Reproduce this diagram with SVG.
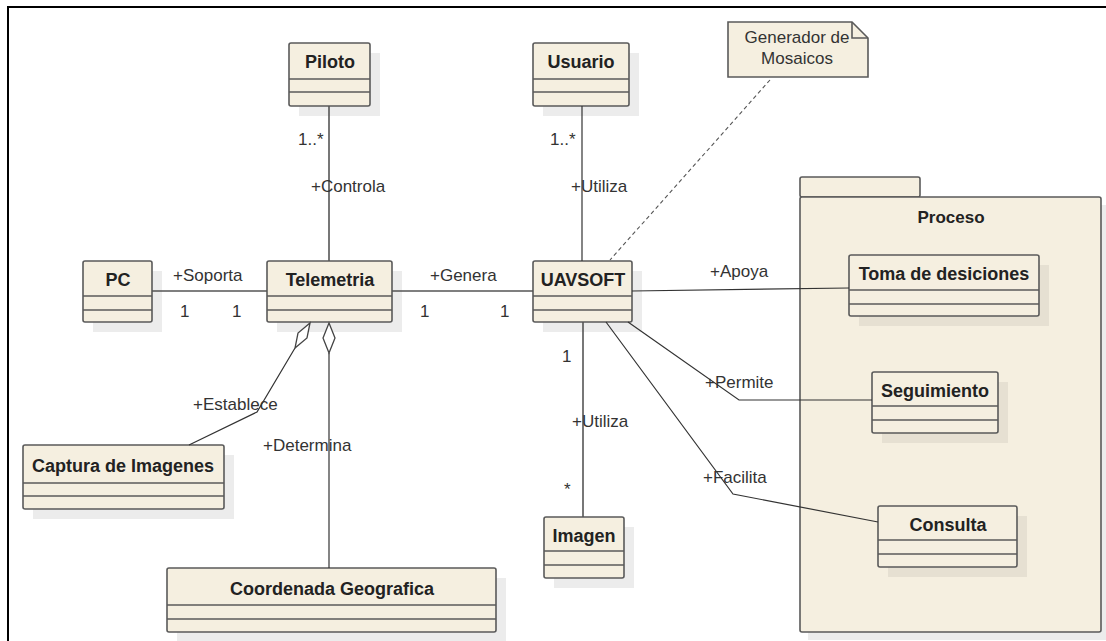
<svg xmlns="http://www.w3.org/2000/svg" width="1106" height="641" viewBox="0 0 1106 641">
  <defs>
    <style>
      .frame { stroke: #000; stroke-width: 2; fill: none; }
      .box { fill: #f5efe0; stroke: #5a5a5a; stroke-width: 1.6; }
      .sep { stroke: #5a5a5a; stroke-width: 1.6; }
      .shadow { fill: #ececec; }
      .shadow-in { fill: #e6e0d2; }
      .title { font-family: "Liberation Sans", Arial, sans-serif; font-size: 18px; font-weight: bold; fill: #222; text-anchor: middle; }
      .label { font-family: "Liberation Sans", Arial, sans-serif; font-size: 17px; fill: #333; }
      .note-text { font-family: "Liberation Sans", Arial, sans-serif; font-size: 17px; fill: #333; text-anchor: middle; }
      .assoc { stroke: #555; stroke-width: 1.6; fill: none; }
      .assoc-thin { stroke: #333; stroke-width: 1.2; fill: none; }
      .dashed { stroke: #555; stroke-width: 1.1; fill: none; stroke-dasharray: 4 3; }
      .agg { fill: #fff; stroke: #444; stroke-width: 1.3; }
    </style>
  </defs>

  <!-- outer frame -->
  <path class="frame" d="M8 641 V7 H1106"/>

  <!-- package Proceso -->
  <g id="pkg-proceso">
    <rect class="shadow" x="808" y="205" width="301" height="435"/>
    <rect class="box" x="800" y="177" width="120" height="20" rx="2"/>
    <rect class="box" x="800" y="197" width="301" height="435" rx="2"/>
    <text class="title" x="951" y="223" style="font-size:17px">Proceso</text>
  </g>

  <!-- note -->
  <g id="note-mosaicos">
    <polygon class="box" points="728,22 852,22 868,38 868,77 728,77"/>
    <polyline class="sep" fill="none" points="852,22 852,38 868,38"/>
    <text class="note-text" x="797" y="43">Generador de</text>
    <text class="note-text" x="797" y="64">Mosaicos</text>
  </g>

  <!-- classes -->
  <g id="cls-piloto">
    <rect class="shadow" x="299" y="53" width="81" height="63"/>
    <rect class="box" x="289" y="43" width="81" height="63" rx="2"/>
    <line class="sep" x1="289" y1="79" x2="370" y2="79"/>
    <line class="sep" x1="289" y1="92" x2="370" y2="92"/>
    <text class="title" x="330" y="68">Piloto</text>
  </g>

  <g id="cls-usuario">
    <rect class="shadow" x="543" y="53" width="96" height="63"/>
    <rect class="box" x="533" y="43" width="96" height="63" rx="2"/>
    <line class="sep" x1="533" y1="79" x2="629" y2="79"/>
    <line class="sep" x1="533" y1="92" x2="629" y2="92"/>
    <text class="title" x="581" y="68">Usuario</text>
  </g>

  <g id="cls-pc">
    <rect class="shadow" x="93" y="271" width="69" height="61"/>
    <rect class="box" x="83" y="261" width="69" height="61" rx="2"/>
    <line class="sep" x1="83" y1="296" x2="152" y2="296"/>
    <line class="sep" x1="83" y1="310" x2="152" y2="310"/>
    <text class="title" x="118" y="286">PC</text>
  </g>

  <g id="cls-telemetria">
    <rect class="shadow" x="277" y="271" width="125" height="61"/>
    <rect class="box" x="267" y="261" width="125" height="61" rx="2"/>
    <line class="sep" x1="267" y1="296" x2="392" y2="296"/>
    <line class="sep" x1="267" y1="310" x2="392" y2="310"/>
    <text class="title" x="330" y="286">Telemetria</text>
  </g>

  <g id="cls-uavsoft">
    <rect class="shadow" x="543" y="271" width="99" height="61"/>
    <rect class="box" x="533" y="261" width="99" height="61" rx="2"/>
    <line class="sep" x1="533" y1="296" x2="632" y2="296"/>
    <line class="sep" x1="533" y1="310" x2="632" y2="310"/>
    <text class="title" x="583" y="286">UAVSOFT</text>
  </g>

  <g id="cls-toma-desiciones">
    <rect class="shadow-in" x="859" y="265" width="190" height="61"/>
    <rect class="box" x="849" y="255" width="190" height="61" rx="2"/>
    <line class="sep" x1="849" y1="290" x2="1039" y2="290"/>
    <line class="sep" x1="849" y1="304" x2="1039" y2="304"/>
    <text class="title" x="944" y="280">Toma de desiciones</text>
  </g>

  <g id="cls-seguimiento">
    <rect class="shadow-in" x="882" y="382" width="126" height="61"/>
    <rect class="box" x="872" y="372" width="126" height="61" rx="2"/>
    <line class="sep" x1="872" y1="406" x2="998" y2="406"/>
    <line class="sep" x1="872" y1="420" x2="998" y2="420"/>
    <text class="title" x="935" y="397">Seguimiento</text>
  </g>

  <g id="cls-consulta">
    <rect class="shadow-in" x="888" y="516" width="139" height="61"/>
    <rect class="box" x="878" y="506" width="139" height="61" rx="2"/>
    <line class="sep" x1="878" y1="540" x2="1017" y2="540"/>
    <line class="sep" x1="878" y1="554" x2="1017" y2="554"/>
    <text class="title" x="948" y="531">Consulta</text>
  </g>

  <g id="cls-imagen">
    <rect class="shadow" x="554" y="527" width="80" height="61"/>
    <rect class="box" x="544" y="517" width="80" height="61" rx="2"/>
    <line class="sep" x1="544" y1="551" x2="624" y2="551"/>
    <line class="sep" x1="544" y1="565" x2="624" y2="565"/>
    <text class="title" x="584" y="542">Imagen</text>
  </g>

  <g id="cls-captura-imagenes">
    <rect class="shadow" x="33" y="455" width="201" height="64"/>
    <rect class="box" x="23" y="445" width="201" height="64" rx="2"/>
    <line class="sep" x1="23" y1="483" x2="224" y2="483"/>
    <line class="sep" x1="23" y1="496" x2="224" y2="496"/>
    <text class="title" x="123" y="472">Captura de Imagenes</text>
  </g>

  <g id="cls-coordenada-geografica">
    <rect class="shadow" x="177" y="578" width="329" height="64"/>
    <rect class="box" x="167" y="568" width="329" height="64" rx="2"/>
    <line class="sep" x1="167" y1="605" x2="496" y2="605"/>
    <line class="sep" x1="167" y1="619" x2="496" y2="619"/>
    <text class="title" x="332" y="595">Coordenada Geografica</text>
  </g>

  <!-- connectors, drawn above the box shadows -->
  <g id="connectors">
    <!-- Piloto - Telemetria -->
    <line class="assoc" x1="329" y1="106" x2="329" y2="261"/>
    <!-- Usuario - UAVSOFT -->
    <line class="assoc-thin" x1="582" y1="106" x2="582" y2="261"/>
    <!-- PC - Telemetria -->
    <line class="assoc" x1="152" y1="291" x2="267" y2="291"/>
    <!-- Telemetria - UAVSOFT -->
    <line class="assoc" x1="392" y1="291" x2="533" y2="291"/>
    <!-- UAVSOFT - Toma de desiciones -->
    <line class="assoc-thin" x1="632" y1="291" x2="849" y2="288"/>
    <!-- UAVSOFT - Seguimiento -->
    <polyline class="assoc-thin" points="628,322 739,400 872,400"/>
    <!-- UAVSOFT - Consulta -->
    <polyline class="assoc-thin" points="606,322 733,494 878,522"/>
    <!-- UAVSOFT - Imagen -->
    <line class="assoc" x1="583" y1="322" x2="583" y2="517"/>
    <!-- Telemetria - Captura de Imagenes (aggregation) -->
    <polyline class="assoc-thin" points="295,348 257,412 189,445"/>
    <polygon class="agg" points="310,323 307,338 295,348 298,333"/>
    <!-- Telemetria - Coordenada Geografica (aggregation) -->
    <line class="assoc-thin" x1="329" y1="353" x2="329" y2="568"/>
    <polygon class="agg" points="329,323 335,338 329,353 323,338"/>
    <!-- note link -->
    <line class="dashed" x1="770" y1="80" x2="610" y2="260"/>

    <!-- association labels -->
    <text class="label" x="298" y="145">1..*</text>
    <text class="label" x="311" y="192">+Controla</text>
    <text class="label" x="550" y="145">1..*</text>
    <text class="label" x="571" y="192">+Utiliza</text>
    <text class="label" x="173" y="281">+Soporta</text>
    <text class="label" x="180" y="317">1</text>
    <text class="label" x="232" y="317">1</text>
    <text class="label" x="430" y="281">+Genera</text>
    <text class="label" x="420" y="317">1</text>
    <text class="label" x="500" y="317">1</text>
    <text class="label" x="710" y="277">+Apoya</text>
    <text class="label" x="562" y="362">1</text>
    <text class="label" x="705" y="388">+Permite</text>
    <text class="label" x="572" y="427">+Utiliza</text>
    <text class="label" x="564" y="495">*</text>
    <text class="label" x="703" y="483">+Facilita</text>
    <text class="label" x="193" y="410">+Establece</text>
    <text class="label" x="263" y="451">+Determina</text>
  </g>
</svg>
